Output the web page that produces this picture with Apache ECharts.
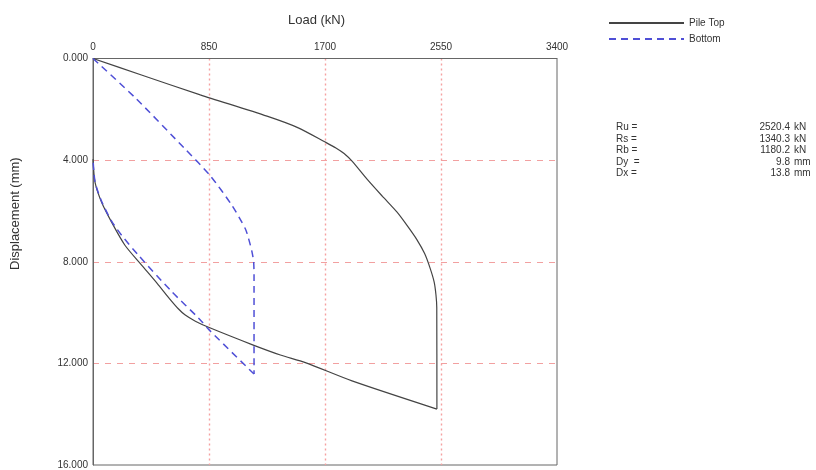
<!DOCTYPE html>
<html>
<head>
<meta charset="utf-8">
<script src="https://cdn.jsdelivr.net/npm/echarts@6/dist/echarts.min.js"></script>
<style>
html,body{margin:0;padding:0;background:#fff;}
#chart{width:816px;height:470px;}
</style>
</head>
<body>
<div id="chart"></div>
<script>
// Load axis ticks (kN) and displacement ticks (mm)
var loadTicks = [0, 850, 1700, 2550, 3400];
var dispTicks = [0, 4, 8, 12, 16];

// Pile Top curve, loading branch: load (kN) and displacement (mm)
var pileTopLoadUp = [0, 355, 786, 1275, 1500, 1702, 1780, 1840, 1900, 2008, 2120, 2228, 2301, 2372, 2430, 2470, 2500, 2513, 2519, 2520];
var pileTopDispUp = [0, 0.65, 1.43, 2.27, 2.72, 3.29, 3.52, 3.74, 4.05, 4.75, 5.42, 6.05, 6.57, 7.12, 7.68, 8.25, 8.80, 9.30, 9.80, 13.80];
// Pile Top curve, unloading branch
var pileTopLoadDown = [2520, 1898, 1556, 1373, 1165, 847, 750, 676, 625, 560, 470, 356, 234, 136, 63, 15, 0];
var pileTopDispDown = [13.80, 12.69, 11.97, 11.67, 11.26, 10.58, 10.34, 10.10, 9.85, 9.45, 8.85, 8.13, 7.35, 6.44, 5.66, 4.88, 3.96];

// Bottom curve, loading branch
var bottomLoadUp = [0, 310, 676, 860, 1019, 1116, 1140, 1165, 1177, 1180, 1180];
var bottomDispUp = [0, 1.55, 3.57, 4.62, 5.79, 6.70, 7.09, 7.61, 8.00, 8.50, 12.42];
// Bottom curve, unloading branch
var bottomLoadDown = [1180, 860, 772, 576, 332, 210, 136, 63, 15, 0];
var bottomDispDown = [12.42, 10.73, 10.21, 9.17, 7.74, 6.96, 6.40, 5.62, 4.85, 3.96];

// Result annotations
var resLabels = ['Ru =', 'Rs =', 'Rb =', 'Dy  =', 'Dx ='];
var resValues = ['2520.4', '1340.3', '1180.2', '9.8', '13.8'];
var resUnits = ['kN', 'kN', 'kN', 'mm', 'mm'];

var seriesNames = ['Pile Top', 'Bottom'];

function pairs(xs, ys) {
  var out = [];
  for (var i = 0; i < xs.length; i++) out.push([xs[i], ys[i]]);
  return out;
}

var chart = echarts.init(document.getElementById('chart'));
var FONT = '"Liberation Sans", Arial, sans-serif';

var graphics = [
  { type: 'text', left: 288, top: 14, style: { text: 'Load (kN)', font: '13px ' + FONT, fill: '#333' } },
  { type: 'text', x: 9, y: 270, rotation: Math.PI / 2, style: { text: 'Displacement (mm)', font: '13px ' + FONT, fill: '#333' } }
];
var rowY = [127, 139, 150.5, 162, 173.5];
for (var i = 0; i < resLabels.length; i++) {
  graphics.push({ type: 'text', x: 616, y: rowY[i], style: { text: resLabels[i], font: '10px ' + FONT, fill: '#333', verticalAlign: 'middle', align: 'left' } });
  graphics.push({ type: 'text', x: 790, y: rowY[i], style: { text: resValues[i], font: '10px ' + FONT, fill: '#333', verticalAlign: 'middle', align: 'right' } });
  graphics.push({ type: 'text', x: 794, y: rowY[i], style: { text: resUnits[i], font: '10px ' + FONT, fill: '#333', verticalAlign: 'middle', align: 'left' } });
}

var topStyle = { color: '#444', width: 1.2 };
var botStyle = { color: '#4f4fd6', width: 1.5, type: [7, 5] };

chart.setOption({
  animation: false,
  backgroundColor: '#fff',
  textStyle: { fontFamily: FONT },
  grid: { left: 93, right: 259, top: 58.5, bottom: 1.5, show: true, borderColor: '#666', borderWidth: 1, backgroundColor: 'transparent' },
  legend: {
    orient: 'vertical', left: 603, top: 13, itemWidth: 75, itemHeight: 10, itemGap: 6,
    itemStyle: { opacity: 0 },
    textStyle: { fontSize: 10, color: '#333', fontFamily: FONT },
    data: seriesNames
  },
  xAxis: {
    type: 'value', position: 'top', min: loadTicks[0], max: loadTicks[loadTicks.length - 1], interval: loadTicks[1] - loadTicks[0],
    axisLine: { show: true, lineStyle: { color: '#666', width: 1 } },
    axisTick: { show: false },
    axisLabel: { fontSize: 10, color: '#333', margin: 6, fontFamily: FONT, formatter: function (v) { return String(v); } },
    splitLine: { show: true, showMinLine: false, showMaxLine: false, lineStyle: { color: '#f6a0a0', type: [2, 3], width: 1.4 } }
  },
  yAxis: {
    type: 'value', inverse: true, min: dispTicks[0], max: dispTicks[dispTicks.length - 1], interval: dispTicks[1] - dispTicks[0],
    axisLine: { show: true, lineStyle: { color: '#666', width: 1 } },
    axisTick: { show: false },
    axisLabel: { fontSize: 10, color: '#333', margin: 5, fontFamily: FONT, formatter: function (v) { return v.toFixed(3); } },
    splitLine: { show: true, showMinLine: false, showMaxLine: false, lineStyle: { color: '#f2a0a0', type: [6, 6], width: 1 } }
  },
  graphic: graphics,
  series: [
    { name: seriesNames[0], type: 'line', symbol: 'none', smooth: 0.25, data: pairs(pileTopLoadUp, pileTopDispUp), lineStyle: topStyle, itemStyle: { color: '#444' } },
    { name: seriesNames[0], type: 'line', symbol: 'none', smooth: 0.25, data: pairs(pileTopLoadDown, pileTopDispDown), lineStyle: topStyle, itemStyle: { color: '#444' } },
    { name: seriesNames[1], type: 'line', symbol: 'none', smooth: 0.25, data: pairs(bottomLoadUp, bottomDispUp), lineStyle: botStyle, itemStyle: { color: '#4f4fd6' } },
    { name: seriesNames[1], type: 'line', symbol: 'none', smooth: 0.25, data: pairs(bottomLoadDown, bottomDispDown), lineStyle: botStyle, itemStyle: { color: '#4f4fd6' } }
  ]
});
</script>
</body>
</html>
